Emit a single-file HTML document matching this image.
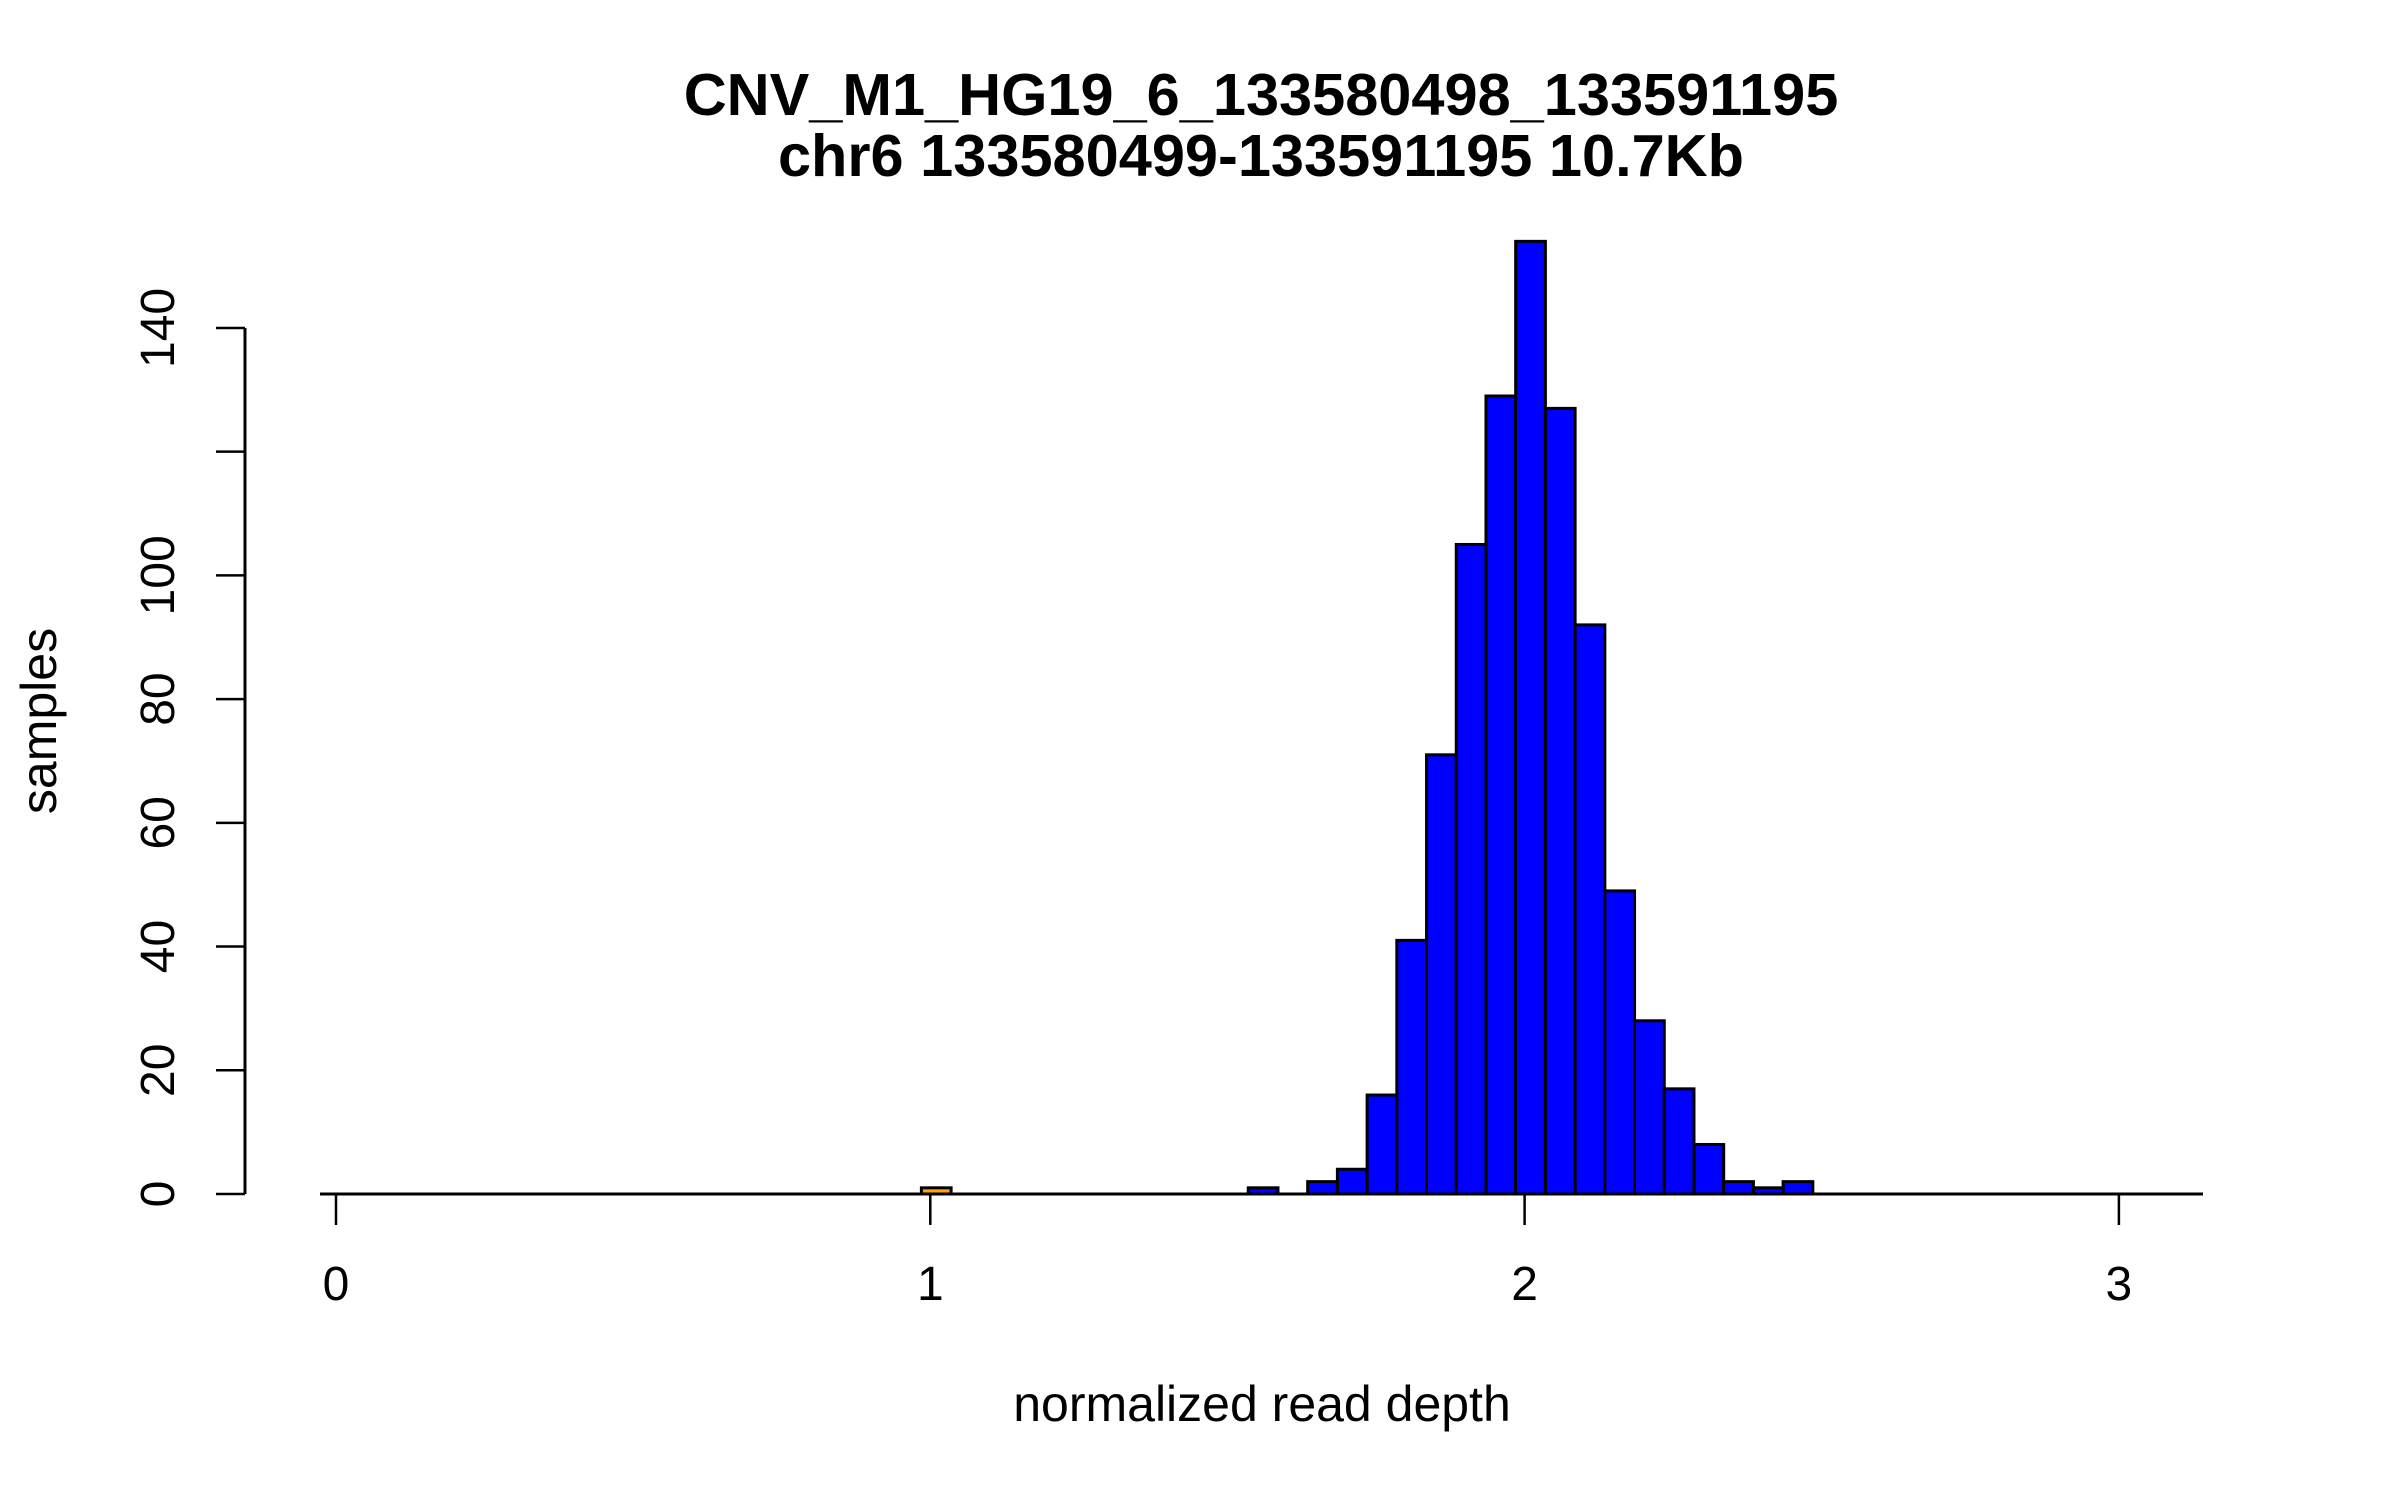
<!DOCTYPE html>
<html><head><meta charset="utf-8"><style>
html,body{margin:0;padding:0;background:#fff;}
svg{display:block;font-family:"Liberation Sans",sans-serif;}
</style></head><body>
<svg id="chart" width="2400" height="1500" viewBox="0 0 2400 1500" xmlns="http://www.w3.org/2000/svg">
<text x="1261" y="115" text-anchor="middle" font-weight="bold" font-size="59.5">CNV_M1_HG19_6_133580498_133591195</text>
<text x="1261" y="176" text-anchor="middle" font-weight="bold" font-size="59.5">chr6 133580499-133591195 10.7Kb</text>
<text x="1262" y="1421" text-anchor="middle" font-size="50">normalized read depth</text>
<text transform="translate(56,721) rotate(-90)" text-anchor="middle" font-size="50">samples</text>
<g id="bars"></g>
<g id="axes"></g>
</svg>
<script>
const binStarts = [0.985, 1.535, 1.635, 1.685, 1.735, 1.785, 1.835, 1.885, 1.935, 1.985, 2.035, 2.085, 2.135, 2.185, 2.235, 2.285, 2.335, 2.385, 2.435];
const counts    = [1, 1, 2, 4, 16, 41, 71, 105, 129, 154, 127, 92, 49, 28, 17, 8, 2, 1, 2];
const barColors = ["orange","blue","blue","blue","blue","blue","blue","blue","blue","blue","blue","blue","blue","blue","blue","blue","blue","blue","blue"];
const binWidth = 0.05;
const xTicks = [0, 1, 2, 3];
const yTicks = [0, 20, 40, 60, 80, 100, 120, 140];
const yTickLabels = ["0", "20", "40", "60", "80", "100", "", "140"];

const NS = "http://www.w3.org/2000/svg";
function xs(v){ return 336 + v * 594.3; }
function ys(v){ return 1194 - v * 6.186; }
function mk(tag, attrs){ const e = document.createElementNS(NS, tag); for (const k in attrs) e.setAttribute(k, attrs[k]); return e; }

const bars = document.getElementById('bars');
binStarts.forEach((b, i) => {
  const x0 = xs(b), x1 = xs(b + binWidth), y = ys(counts[i]);
  const r = mk('rect', {x: x0, y: y, width: x1 - x0, height: ys(0) - y, fill: barColors[i], stroke: '#000', 'stroke-width': 3});
  
  
  bars.appendChild(r);
});

const axes = document.getElementById('axes');
const base = mk('line', {x1: 320, x2: 2203, y1: ys(0), y2: ys(0), stroke: '#000', 'stroke-width': 3});


axes.appendChild(base);
xTicks.forEach(t => {
  const l = mk('line', {x1: xs(t), x2: xs(t), y1: ys(0), y2: ys(0) + 31, stroke: '#000', 'stroke-width': 2.5});
  
  
  axes.appendChild(l);
  const tx = mk('text', {x: xs(t), y: 1300, 'text-anchor': 'middle', 'font-size': 48});
  tx.textContent = String(t);
  
  
  axes.appendChild(tx);
});
const yl = mk('line', {x1: 245, x2: 245, y1: ys(140), y2: ys(0), stroke: '#000', 'stroke-width': 3});


axes.appendChild(yl);
yTicks.forEach((t, i) => {
  const l = mk('line', {x1: 216, x2: 245, y1: ys(t), y2: ys(t), stroke: '#000', 'stroke-width': 2.5});
  
  
  axes.appendChild(l);
  if (yTickLabels[i]) {
    const tx = mk('text', {transform: 'translate(174,' + ys(t) + ') rotate(-90)', 'text-anchor': 'middle', 'font-size': 48});
    tx.textContent = yTickLabels[i];
    
    
    axes.appendChild(tx);
  }
});
</script>
</body></html>
